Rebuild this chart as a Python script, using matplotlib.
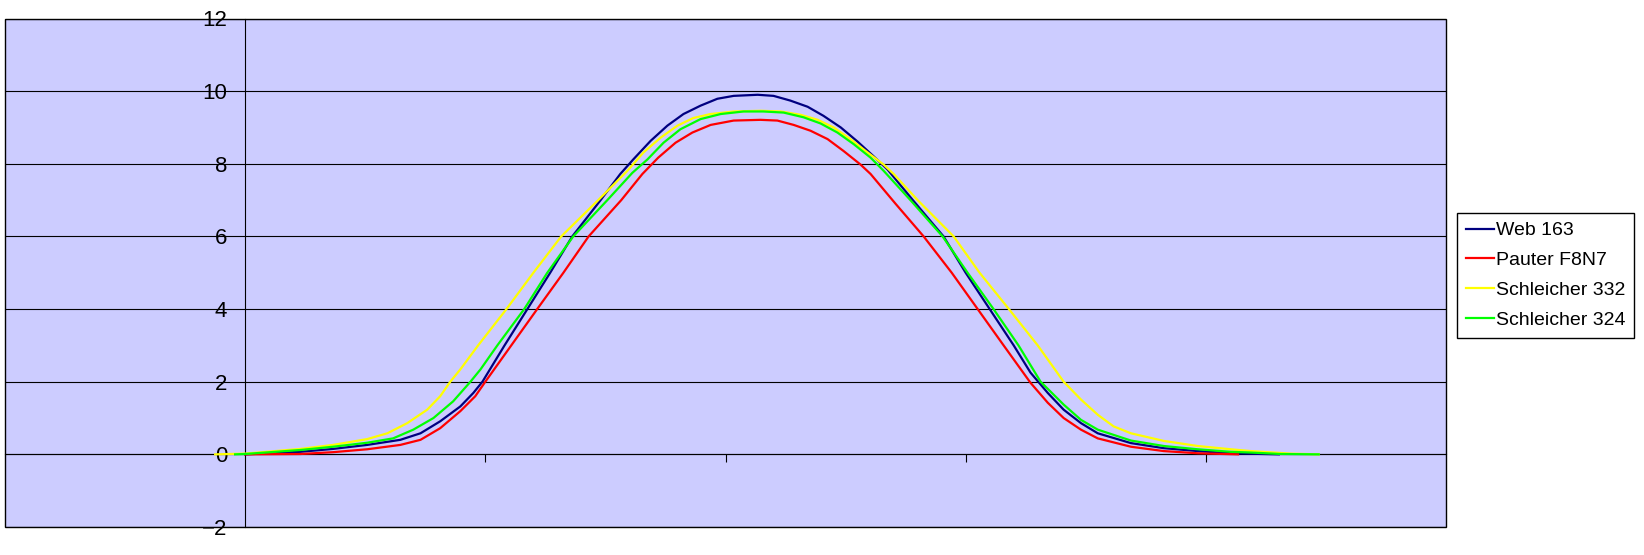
import matplotlib
matplotlib.use("Agg")
import matplotlib.pyplot as plt
from matplotlib.patches import Rectangle

plt.rcParams['font.family'] = ['Liberation Sans', 'DejaVu Sans']

# values (x in arbitrary units, tick step 50)
web_x = [0, 11.5, 18.3, 25.4, 32.3, 36.5, 40.6, 44.8, 47.5, 49.4, 54.0, 58.75, 63.5, 68.1, 74.0, 78.1,
         80.8, 84.4, 87.9, 91.25, 94.8, 98.3, 101.7, 106.7, 110.0, 113.5, 117.1, 120.4, 124.0, 127.5,
         130.8, 133.75, 139.0, 145.4, 150.0, 155.0, 160.0, 163.5, 167.1, 170.4, 174.0, 177.5, 184.4,
         191.25, 198.3, 205.2, 215.2]
web_y = [0, 0.07, 0.15, 0.26, 0.40, 0.58, 0.91, 1.32, 1.69, 2.0, 3.0, 4.0, 5.0, 6.0, 7.0, 7.72,
         8.12, 8.63, 9.05, 9.37, 9.6, 9.79, 9.87, 9.9, 9.87, 9.74, 9.57, 9.32, 9.0, 8.61,
         8.21, 7.84, 7.0, 6.0, 5.0, 4.0, 3.0, 2.25, 1.69, 1.23, 0.86, 0.58, 0.31,
         0.17, 0.09, 0.03, 0.0]

pauter_x = [0, 11.5, 18.3, 25.4, 32.3, 36.5, 40.6, 44.8, 47.9, 50.0, 55.4, 60.8, 66.25, 71.5, 78.3, 82.7,
            86.0, 89.6, 93.1, 96.9, 101.7, 107.3, 110.8, 114.2, 117.7, 121.25, 124.6, 128.1, 130.2,
            135.4, 141.25, 147.1, 152.5, 157.9, 163.5, 167.1, 170.4, 174.0, 177.5, 184.4, 191.25,
            198.3, 206.7]
pauter_y = [0, 0.01, 0.06, 0.14, 0.26, 0.40, 0.72, 1.19, 1.6, 2.0, 3.0, 4.0, 5.0, 6.0, 7.0, 7.72,
            8.17, 8.58, 8.86, 9.07, 9.19, 9.21, 9.19, 9.07, 8.91, 8.68, 8.35, 7.98, 7.72,
            6.9, 6.0, 5.0, 4.0, 3.0, 1.97, 1.42, 1.0, 0.68, 0.44, 0.21, 0.09,
            0.03, 0.0]

s332_x = [-6.25, 0, 11.5, 18.3, 25.4, 29.6, 33.75, 37.9, 40.6, 42.7, 44.8, 48.5, 54.4, 60.0, 65.8, 73.5,
          79.6, 82.9, 86.5, 90.0, 93.3, 96.9, 101.7, 107.3, 111.5, 115.6, 119.2, 122.5, 126.0, 129.6,
          132.9, 135.0, 140.0, 147.5, 152.9, 159.0, 165.0, 170.4, 174.0, 177.5, 180.8, 184.4, 191.25,
          198.3, 205.2, 209.4, 217.7, 223.5]
s332_y = [0, 0.02, 0.15, 0.26, 0.42, 0.58, 0.86, 1.23, 1.6, 2.0, 2.34, 3.0, 4.0, 5.0, 6.0, 7.0,
          7.81, 8.31, 8.72, 9.05, 9.26, 9.37, 9.44, 9.46, 9.44, 9.35, 9.21, 9.0, 8.68, 8.31,
          7.98, 7.72, 7.0, 6.0, 5.0, 4.0, 3.0, 2.0, 1.51, 1.09, 0.77, 0.58, 0.37,
          0.23, 0.14, 0.09, 0.02, 0.0]

s324_x = [-2.1, 0, 11.5, 18.3, 25.4, 30.8, 35.0, 39.2, 43.3, 46.9, 49.0, 52.5, 58.1, 62.9, 68.3, 75.4,
          80.6, 83.75, 87.1, 90.6, 94.8, 99.0, 103.75, 107.9, 112.1, 116.25, 119.8, 123.3, 126.7, 130.2,
          132.9, 138.5, 145.2, 150.4, 155.8, 161.0, 165.6, 170.4, 174.0, 177.5, 184.4, 191.25,
          198.3, 205.2, 209.4, 215.6, 223.5]
s324_y = [0, 0.01, 0.12, 0.21, 0.32, 0.44, 0.68, 1.0, 1.46, 2.0, 2.34, 3.0, 4.0, 5.0, 6.0, 7.0,
          7.75, 8.12, 8.58, 8.95, 9.23, 9.37, 9.44, 9.44, 9.41, 9.28, 9.11, 8.86, 8.54, 8.17,
          7.81, 7.0, 6.0, 5.0, 4.0, 3.0, 2.0, 1.37, 0.95, 0.68, 0.38, 0.23,
          0.14, 0.07, 0.05, 0.01, 0.0]

series = [
    ("Web 163", web_x, web_y, "#000080"),
    ("Pauter F8N7", pauter_x, pauter_y, "#FF0000"),
    ("Schleicher 332", s332_x, s332_y, "#FFFF00"),
    ("Schleicher 324", s324_x, s324_y, "#00FF00"),
]

yticks = list(range(-2, 13, 2))
xticks = [50, 100, 150, 200]

fig = plt.figure(figsize=(16.44, 5.55), dpi=100)
ax = fig.add_axes([5 / 1644, 28 / 555, 1441 / 1644, 508.5 / 555])
ax.set_facecolor("#CCCCFF")
ax.set_xlim(-50, 250)
ax.set_ylim(-2, 12)

lines = []
for name, xs, ys, col in series:
    ln, = ax.plot(xs, ys, color=col, lw=1.6, label=name, zorder=3, solid_joinstyle="round")
    lines.append(ln)

ax.spines["left"].set_position(("data", 0))
ax.spines["bottom"].set_position(("data", 0))
for s in ["top", "right"]:
    ax.spines[s].set_visible(False)
for s in ["left", "bottom"]:
    ax.spines[s].set_linewidth(0.8)
ax.add_patch(Rectangle((0, 0), 1, 1, transform=ax.transAxes, fill=False,
                       edgecolor="black", lw=1.0, clip_on=False, zorder=4))

ax.set_yticks(yticks)
ax.set_xticks(xticks)
ax.yaxis.grid(True, color="black", lw=0.8)
ax.set_axisbelow(True)
ax.tick_params(axis="y", length=0, pad=13, labelsize=16)
ax.tick_params(axis="x", direction="out", length=5.5, width=0.8, labelbottom=False)

leg = fig.legend(handles=lines, loc="upper left", bbox_to_anchor=(1457 / 1644, 1 - 213 / 555),
                 bbox_transform=fig.transFigure, fontsize=14, frameon=True, fancybox=False,
                 edgecolor="black", framealpha=1, handlelength=1.45, handletextpad=0.1,
                 labelspacing=0.63, borderpad=0.45, borderaxespad=0)
leg.get_frame().set_linewidth(1.0)

fig.savefig("out.png", dpi=100)
plt.close()
